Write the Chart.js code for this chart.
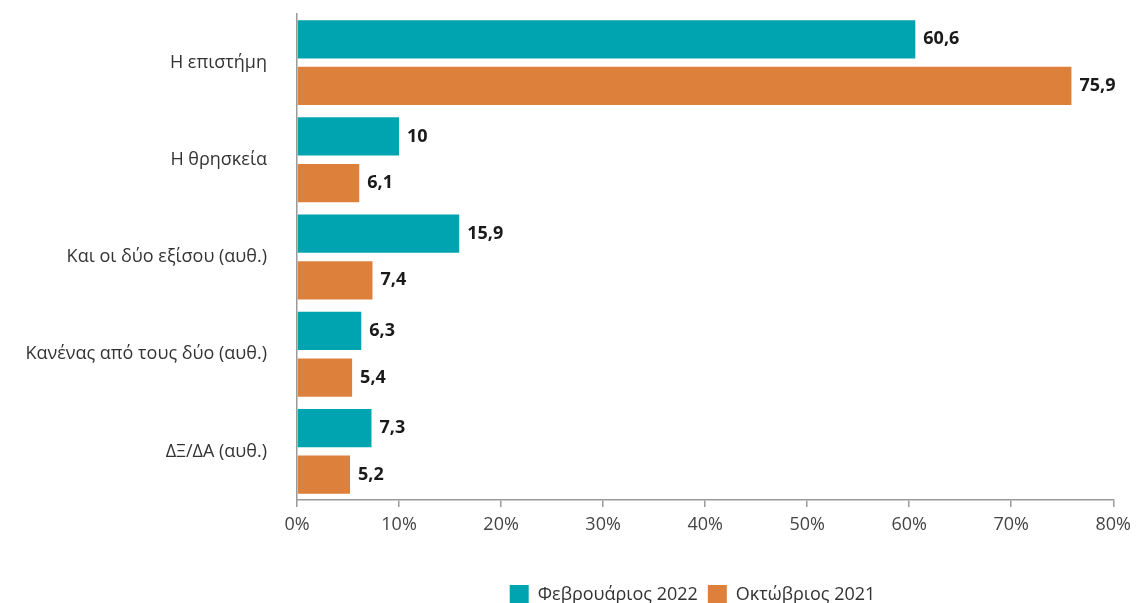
<!DOCTYPE html>
<html>
<head>
<meta charset="utf-8">
<script src="https://cdn.jsdelivr.net/npm/chart.js@4.4.1/dist/chart.umd.min.js"></script>
<style>
  html, body { margin: 0; padding: 0; background: #fff; }
  #wrap { width: 1138px; height: 603px; position: relative; }
</style>
</head>
<body>
<div id="wrap"><canvas id="chart"></canvas></div>
<script>
const categories = [
  "Η επιστήμη",
  "Η θρησκεία",
  "Και οι δύο εξίσου (αυθ.)",
  "Κανένας από τους δύο (αυθ.)",
  "ΔΞ/ΔΑ (αυθ.)",
];
const feb2022 = [60.6, 10, 15.9, 6.3, 7.3];
const oct2021 = [75.9, 6.1, 7.4, 5.4, 5.2];
const seriesNames = ["Φεβρουάριος 2022", "Οκτώβριος 2021"];
const xTicks = [0, 10, 20, 30, 40, 50, 60, 70, 80];

const FONT = "'Open Sans', 'Noto Sans', sans-serif";

// value labels to the right of each bar (comma decimal)
const barLabels = {
  id: "barLabels",
  afterDatasetsDraw(chart) {
    const ctx = chart.ctx;
    ctx.save();
    ctx.font = "bold 18px " + FONT;
    ctx.fillStyle = "#1a1a1a";
    ctx.textBaseline = "middle";
    ctx.textAlign = "left";
    chart.data.datasets.forEach((ds, i) => {
      const meta = chart.getDatasetMeta(i);
      meta.data.forEach((bar, j) => {
        const txt = String(ds.data[j]).replace(".", ",");
        ctx.fillText(txt, bar.x + 8, bar.y);
      });
    });
    ctx.restore();
  },
};

// squeeze the legend box so it sits low, and centre it under the plot area
const legendPlace = {
  id: "legendPlace",
  beforeUpdate(chart) {
    const lg = chart.legend;
    if (lg && !lg._squeezed) {
      const fit = lg.fit.bind(lg);
      lg.fit = function () {
        fit();
        this.height = 28;
      };
      lg._squeezed = true;
    }
  },
  afterLayout(chart) {
    const lg = chart.legend;
    if (!lg) return;
    const shift = 134;
    lg.left += shift;
    lg.right += shift;
  },
};

new Chart(document.getElementById("chart"), {
  type: "bar",
  data: {
    labels: categories,
    datasets: [
      {
        label: seriesNames[0],
        data: feb2022,
        backgroundColor: "#00A4B1",
        barPercentage: 0.82,
        categoryPercentage: 0.96,
      },
      {
        label: seriesNames[1],
        data: oct2021,
        backgroundColor: "#DC803B",
        barPercentage: 0.82,
        categoryPercentage: 0.96,
      },
    ],
  },
  options: {
    indexAxis: "y",
    responsive: true,
    maintainAspectRatio: false,
    animation: false,
    layout: { padding: { top: 14, right: 21, bottom: 0, left: 0 } },
    scales: {
      x: {
        min: 0,
        max: 80,
        afterBuildTicks: (scale) => {
          scale.ticks = xTicks.map((v) => ({ value: v }));
        },
        afterFit: (scale) => { scale.height = 75; },
        border: { display: true, color: "#9a9a9a", width: 1.5 },
        grid: { drawOnChartArea: false, drawTicks: true, tickLength: 7, color: "#9a9a9a", lineWidth: 1.5 },
        ticks: {
          padding: 7,
          color: "#444",
          font: { family: FONT, size: 18 },
          callback: (v) => v + "%",
        },
      },
      y: {
        afterFit: (scale) => {
          scale.width = 297;
          scale.paddingTop = 0;
          scale.paddingBottom = 0;
        },
        border: { display: true, color: "#9a9a9a", width: 1.5 },
        grid: { display: false, drawTicks: false },
        ticks: {
          padding: 30,
          color: "#333",
          font: { family: FONT, size: 18 },
        },
      },
    },
    plugins: {
      legend: {
        position: "bottom",
        labels: {
          boxWidth: 19,
          boxHeight: 19,
          padding: 10,
          color: "#333",
          font: { family: FONT, size: 18 },
        },
      },
      tooltip: { enabled: false },
    },
  },
  plugins: [barLabels, legendPlace],
});
</script>
</body>
</html>
